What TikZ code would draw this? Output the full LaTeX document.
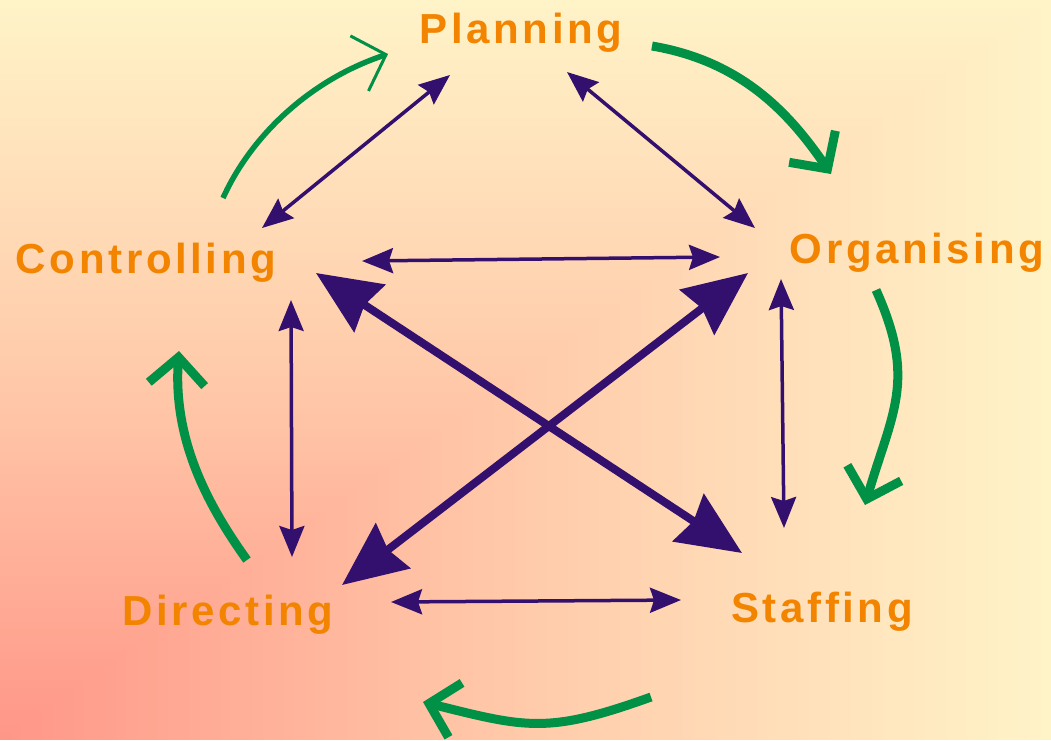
\documentclass[tikz,border=0pt]{standalone}
\usepackage{fontspec}
\setmainfont{Liberation Sans}
\newfontfamily\lblfont[LetterSpace=8.6]{Liberation Sans}
\usetikzlibrary{arrows.meta}
\definecolor{lblorange}{RGB}{242,132,0}
\definecolor{cyclegreen}{RGB}{0,144,70}
\definecolor{linkpurple}{RGB}{51,16,110}
\definecolor{bgpink}{RGB}{255,150,135}
\definecolor{bgpeach}{RGB}{255,202,170}
\definecolor{bgyellow}{RGB}{255,243,200}
\begin{document}
\begin{tikzpicture}[x=1pt,y=-1pt,
  lbl/.style={font=\lblfont\bfseries\fontsize{42}{42}\selectfont, text=lblorange, anchor=base, inner sep=0pt},
  thinlink/.style={draw=linkpurple, line width=3.5pt,
    {Stealth[length=31pt,width=25pt,inset=4pt]}-{Stealth[length=31pt,width=25pt,inset=4pt]}},
  biglink/.style={draw=linkpurple, line width=8pt,
    {Stealth[length=64pt,width=56pt,inset=6pt]}-{Stealth[length=64pt,width=56pt,inset=6pt]}},
  cyclearrow/.style={draw=cyclegreen, line width=9pt, -{Straight Barb[length=27pt,width=56pt]}},
  cyclethin/.style={draw=cyclegreen, line width=5.5pt, -{Straight Barb[length=28pt,width=58pt,line width=3pt]}}
]
\useasboundingbox (0,0) rectangle (1051,740);
% background: rectangular gradient from the bottom-left corner
\foreach \i in {100,...,51}{
  \pgfmathtruncatemacro\p{(100-\i)*2}
  \fill[fill={bgpeach!\p!bgyellow}] (0,740) rectangle (10.51*\i,740-7.4*\i);
}
\foreach \i in {50,...,1}{
  \pgfmathtruncatemacro\p{(50-\i)*2}
  \fill[fill={bgpink!\p!bgpeach}] (0,740) rectangle (10.51*\i,740-7.4*\i);
}
% labels
\node[lbl] (planning) at (521,43) {Planning};
\node[lbl] (controlling) at (146,273) {Controlling};
\node[lbl] (organising) at (917,263) {Organising};
\node[lbl] (directing) at (228,625) {Directing};
\node[lbl] (staffing) at (822,622) {Staffing};
% connector end points
\coordinate (pc-p) at (450,75);  \coordinate (pc-c) at (262,228);
\coordinate (po-p) at (567,72);  \coordinate (po-o) at (755,228);
\coordinate (co-c) at (362,261); \coordinate (co-o) at (720,257);
\coordinate (cd-c) at (291,300); \coordinate (cd-d) at (292,557);
\coordinate (os-o) at (781,279); \coordinate (os-s) at (784,528);
\coordinate (ds-d) at (391,602); \coordinate (ds-s) at (681,600);
\coordinate (cs-c) at (316,273); \coordinate (cs-s) at (742,553);
\coordinate (od-o) at (748,273); \coordinate (od-d) at (342,585);
% purple links
\draw[thinlink] (pc-p) -- (pc-c);
\draw[thinlink] (po-p) -- (po-o);
\draw[thinlink] (co-c) -- (co-o);
\draw[thinlink] (cd-c) -- (cd-d);
\draw[thinlink] (os-o) -- (os-s);
\draw[thinlink] (ds-d) -- (ds-s);
\draw[biglink] (cs-c) -- (cs-s);
\draw[biglink] (od-o) -- (od-d);
% green cycle arrows
\coordinate (g1a) at (652,46);  \coordinate (g1b) at (831,174);
\coordinate (g2a) at (876,290); \coordinate (g2b) at (865,505);
\coordinate (g3a) at (651,697); \coordinate (g3b) at (423,702);
\coordinate (g4a) at (247,560); \coordinate (g4b) at (179,351);
\coordinate (g5a) at (223,198); \coordinate (g5b) at (388,54);
\draw[cyclearrow] (g1a) .. controls (740,61) and (788,111) .. (g1b);
\draw[cyclearrow] (g2a) .. controls (917,381) and (892,412) .. (g2b);
\draw[cyclearrow] (g3a) .. controls (548,734) and (527,728) .. (g3b);
\draw[cyclearrow] (g4a) .. controls (206,503) and (173,438) .. (g4b);
\draw[cyclethin] (g5a) .. controls (252,134) and (312,79) .. (g5b);
\end{tikzpicture}
\end{document}
